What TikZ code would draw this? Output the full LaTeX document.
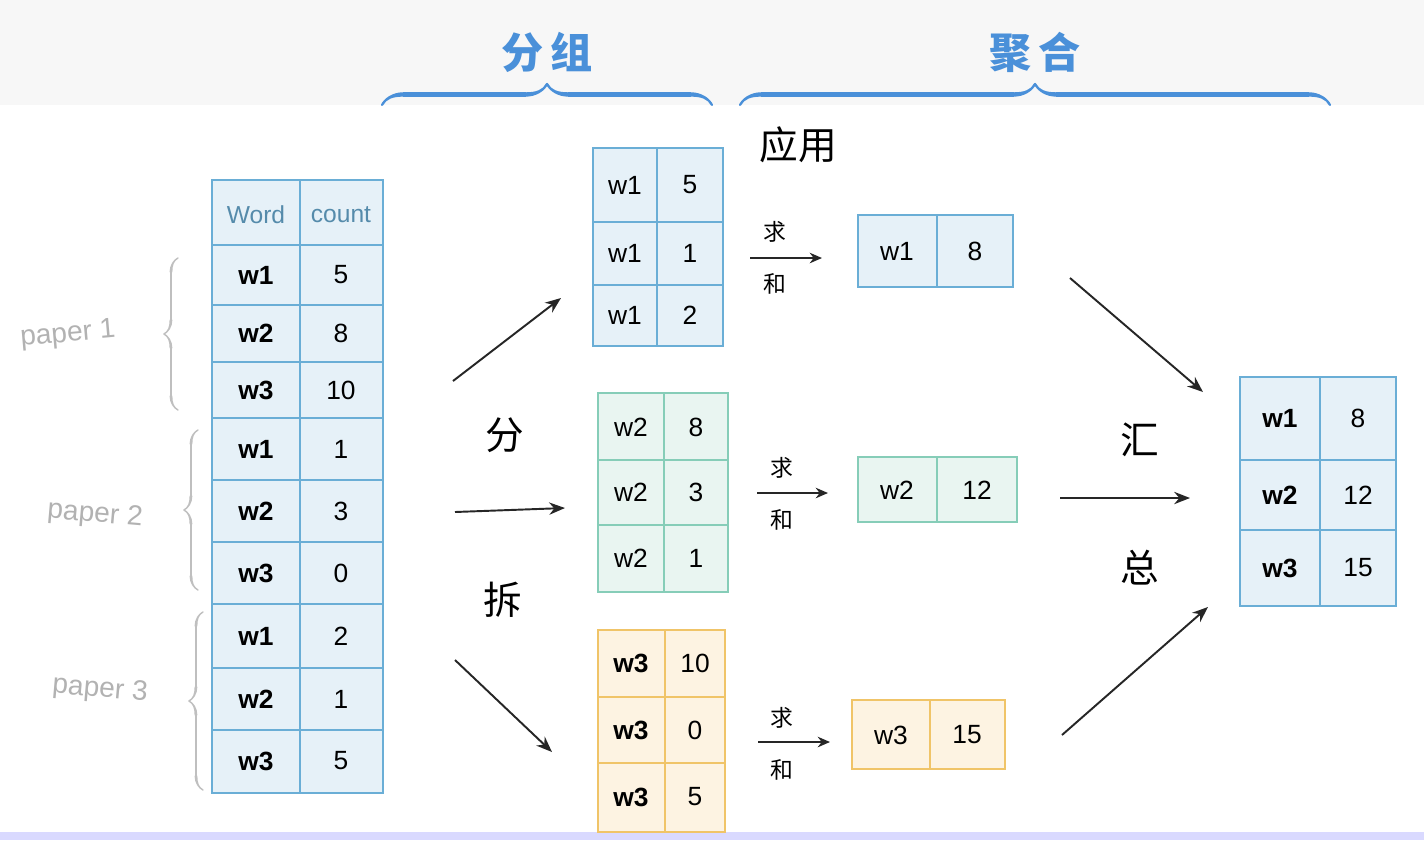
\documentclass[tikz,border=0pt]{standalone}
\usepackage{fontspec}
\setmainfont{Liberation Sans}
\newfontfamily\cjk{Noto Sans CJK SC}
\usetikzlibrary{decorations.pathreplacing,calligraphy,arrows.meta}
\definecolor{bl}{HTML}{6AAED6}\definecolor{blf}{HTML}{E6F1F8}
\definecolor{gr}{HTML}{86CDB8}\definecolor{grf}{HTML}{E9F5F1}
\definecolor{orc}{HTML}{F0C468}\definecolor{orf}{HTML}{FDF3E2}
\definecolor{hd}{HTML}{4A90D9}
\tikzset{x=0.02cm,y=-0.02cm,
 cell/.style={font=\fontsize{15}{15}\selectfont},
 arr/.style={-{Stealth[length=9pt,width=7pt]},line width=1.1pt,draw=black!85},
 sarr/.style={-{Stealth[length=7pt,width=6pt]},line width=1pt,draw=black!85},
 hand/.style={font=\cjk\fontsize{13}{13}\selectfont},
 pap/.style={text=black!30,font=\fontsize{16}{16}\selectfont},
 pbr/.style={draw=black!25,pen colour={black!25},line width=1.6pt,decorate,decoration={calligraphic brace,amplitude=8pt}},
 tbr/.style={draw=hd,pen colour={hd},line width=2.5pt,decorate,decoration={calligraphic brace,amplitude=12pt}}}
\begin{document}
\begin{tikzpicture}
\fill[white] (0,0) rectangle (1424,840);
\fill[black!3] (0,0) rectangle (1424,105);
\fill[blue!15] (0,832) rectangle (1424,840);
% top braces
\draw[tbr] (382,105) -- node[above=14pt,text=hd,font=\cjk\bfseries\fontsize{24}{24}\selectfont](t1){分\,组} (712,105);
\draw[tbr] (740,105) -- node[above=14pt,text=hd,font=\cjk\bfseries\fontsize{24}{24}\selectfont](t2){聚\,合} (1330,105);
% main table
\fill[blf] (212,180) rectangle (383,793);
\draw[bl,line width=1.2pt] (212,180) rectangle (383,793) (300,180)--(300,793);
\foreach \y in {245,305,362,418,480,542,604,668,730} \draw[bl,line width=1.2pt] (212,\y)--(383,\y);
\node[text=bl!80!black,font=\fontsize{14}{14}\selectfont] (hw) at (256,215) {Word};
\node[text=bl!80!black,font=\fontsize{14}{14}\selectfont] (hc) at (341,215) {count};
\foreach \w/\c/\yy in {w1/5/275,w2/8/333,w3/10/390,w1/1/449,w2/3/511,w3/0/573,w1/2/636,w2/1/699,w3/5/761}{
 \node[cell,font=\bfseries\fontsize{15}{15}\selectfont] at (256,\yy) {\w};
 \node[cell] at (341,\yy) {\c};}
% paper braces
\draw[pbr] (178,410) -- (178,258);
\draw[pbr] (198,590) -- (198,430);
\draw[pbr] (203,790) -- (203,612);
\node[pap,rotate=5] (p1) at (68,335) {paper 1};
\node[pap,rotate=-5] (p2) at (95,515) {paper 2};
\node[pap,rotate=-5] (p3) at (100,690) {paper 3};
% group tables
\def\gtab#1#2#3#4#5#6#7{%
 \fill[#5] (#1,#3) rectangle (#2,#4);
 \draw[#6,line width=1.2pt] (#1,#3) rectangle (#2,#4) (#7,#3)--(#7,#4);}
\gtab{593}{723}{148}{346}{blf}{bl}{657}
\draw[bl,line width=1.2pt] (593,222)--(723,222) (593,285)--(723,285);
\gtab{598}{728}{393}{592}{grf}{gr}{664}
\draw[gr,line width=1.2pt] (598,460)--(728,460) (598,525)--(728,525);
\gtab{598}{725}{630}{832}{orf}{orc}{665}
\draw[orc,line width=1.2pt] (598,697)--(725,697) (598,763)--(725,763);
\foreach \y/\c in {185/5,253/1,315/2}{\node[cell] at (625,\y){w1};\node[cell] at (690,\y){\c};}
\foreach \y/\c in {427/8,492/3,558/1}{\node[cell] at (631,\y){w2};\node[cell] at (696,\y){\c};}
\foreach \y/\c in {663/10,730/0,797/5}{\node[cell,font=\bfseries\fontsize{15}{15}\selectfont] at (631,\y){w3};\node[cell] at (695,\y){\c};}
% sum boxes
\gtab{858}{1013}{215}{287}{blf}{bl}{937}
\node[cell] at (897,251){w1};\node[cell] at (975,251){8};
\gtab{858}{1017}{457}{522}{grf}{gr}{937}
\node[cell] at (897,490){w2};\node[cell] at (977,490){12};
\gtab{852}{1005}{700}{769}{orf}{orc}{930}
\node[cell] at (891,735){w3};\node[cell] at (967,735){15};
% result
\gtab{1240}{1396}{377}{606}{blf}{bl}{1320}
\draw[bl,line width=1.2pt] (1240,460)--(1396,460) (1240,530)--(1396,530);
\foreach \y/\w/\c in {418/w1/8,495/w2/12,568/w3/15}{\node[cell,font=\bfseries\fontsize{15}{15}\selectfont] at (1280,\y){\w};\node[cell] at (1358,\y){\c};}
% handwritten labels
\node[hand,font=\cjk\fontsize{22}{22}\selectfont] (yy) at (798,145) {应用};
\node[hand,font=\cjk\fontsize{22}{22}\selectfont] (fe) at (505,435) {分};
\node[hand,font=\cjk\fontsize{22}{22}\selectfont] (ch) at (503,600) {拆};
\node[hand,font=\cjk\fontsize{22}{22}\selectfont] (hu) at (1140,440) {汇};
\node[hand,font=\cjk\fontsize{22}{22}\selectfont] (zo) at (1140,568) {总};
\foreach \x/\y/\z in {775/232/284,782/468/520,782/718/770}{\node[hand] at (\x,\y){求};\node[hand] at (\x,\z){和};}
% arrows
\coordinate (a1) at (453,381); \coordinate (b1) at (561,298);
\coordinate (a2) at (455,512); \coordinate (b2) at (565,508);
\coordinate (a3) at (455,660); \coordinate (b3) at (552,752);
\draw[arr] (a1)--(b1); \draw[arr] (a2)--(b2); \draw[arr] (a3)--(b3);
\coordinate (c1) at (750,258); \coordinate (d1) at (822,258);
\coordinate (c2) at (757,493); \coordinate (d2) at (828,493);
\coordinate (c3) at (758,742); \coordinate (d3) at (830,742);
\draw[sarr] (c1)--(d1); \draw[sarr] (c2)--(d2); \draw[sarr] (c3)--(d3);
\coordinate (e1) at (1070,278); \coordinate (f1) at (1203,392);
\coordinate (e2) at (1060,498); \coordinate (f2) at (1190,498);
\coordinate (e3) at (1062,735); \coordinate (f3) at (1208,607);
\draw[arr] (e1)--(f1); \draw[arr] (e2)--(f2); \draw[arr] (e3)--(f3);
\end{tikzpicture}
\end{document}
